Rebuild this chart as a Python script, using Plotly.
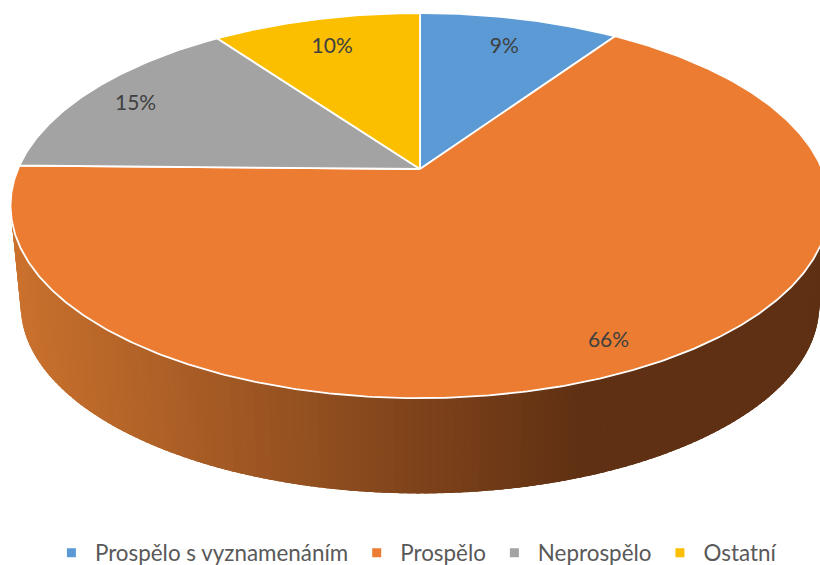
import numpy as np
import plotly.graph_objects as go

categories = ["Prospělo s vyznamenáním", "Prospělo", "Neprospělo", "Ostatní"]
values = [9.49, 65.81, 14.8, 9.9]
percent_labels = ["9%", "66%", "15%", "10%"]
colors = ["#5B9AD5", "#EB7C31", "#A3A3A3", "#FCBF00"]

# perspective model of the tilted disc
CX, CY, A, B, K = 420.0, 169.0, 402.0, 185.6, 0.19
DEPTH, SHRINK = 101.0, 0.975
LABEL_R = [0.82, 0.87, 0.86, 0.82]
LABEL_DY = 5.0
SIDE_LIGHT = np.array([0xCB, 0x72, 0x2E])
SIDE_DARK = np.array([0x5F, 0x30, 0x13])


def project(theta_deg, r=1.0):
    t = np.radians(theta_deg)
    w = 1 + K * r * np.cos(t)
    return CX + A * r * np.sin(t) / w, CY - B * r * np.cos(t) / w


def lower(theta_deg):
    x, y = project(theta_deg)
    return CX + (x - CX) * SHRINK, CY + DEPTH + (y - CY) * SHRINK


fig = go.Figure()

# extruded side: overlapping strips shaded from left to right (drawn right to left)
step = 1.0
for th in np.arange(60, 300, step):
    ang = np.array([th, th + 0.5, th + 2.5])
    xt, yt = project(ang)
    xb, yb = lower(ang)
    xs = np.r_[xt, xb[::-1], xt[0]]
    ys = np.r_[yt, yb[::-1], yt[0]]
    f = np.clip((590 - xb[0]) / (590 - 20), 0, 1)
    c = SIDE_DARK + (SIDE_LIGHT - SIDE_DARK) * f
    col = "rgb(%d,%d,%d)" % tuple(c)
    fig.add_trace(go.Scatter(x=xs, y=ys, mode="lines", fill="toself", fillcolor=col,
                             line=dict(width=0), showlegend=False, hoverinfo="skip"))

# top face
shares = np.array(values) / sum(values) * 360
ends = np.cumsum(shares)
starts = ends - shares
for s, e, col in zip(starts, ends, colors):
    ang = np.linspace(s, e, max(int(e - s) * 2, 8))
    x, y = project(ang)
    fig.add_trace(go.Scatter(x=np.r_[CX, x, CX], y=np.r_[CY, y, CY], mode="lines", fill="toself",
                             fillcolor=col, line=dict(color="white", width=1.8),
                             showlegend=False, hoverinfo="skip"))

# percentage labels
mid = (starts + ends) / 2
lx, ly = project(mid, np.array(LABEL_R))
fig.add_trace(go.Scatter(x=lx, y=ly + LABEL_DY, mode="text", text=percent_labels,
                         textfont=dict(family="Lato", size=21, color="#404040"),
                         textposition="middle center", showlegend=False, hoverinfo="skip"))

# legend entries
for name, col in zip(categories, colors):
    fig.add_trace(go.Scatter(x=[None], y=[None], mode="markers", name=name,
                             marker=dict(symbol="square", size=9, color=col)))

fig.update_layout(
    width=820, height=565, autosize=False,
    margin=dict(l=0, r=0, t=0, b=0, autoexpand=False),
    paper_bgcolor="white", plot_bgcolor="white",
    xaxis=dict(range=[0, 820], visible=False, fixedrange=True),
    yaxis=dict(range=[565, 0], visible=False, fixedrange=True),
    legend=dict(orientation="h", x=0.506, xanchor="center", y=0.021, yanchor="middle",
                font=dict(family="Lato", size=22.4, color="#595959"),
                bgcolor="rgba(0,0,0,0)", itemwidth=37),
    font=dict(family="Lato"),
)
fig.write_html("out.html", config={"displayModeBar": False},
               post_script="document.body.style.margin='0';document.body.style.overflow='hidden';")
